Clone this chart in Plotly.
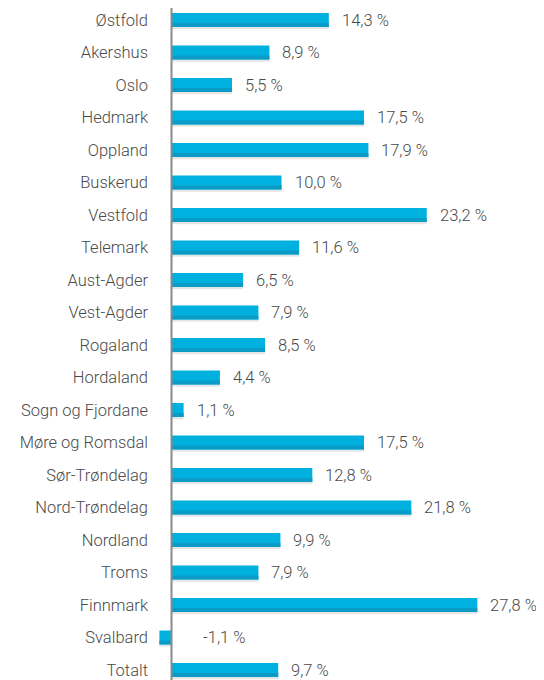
import plotly.graph_objects as go

categories = ["Østfold", "Akershus", "Oslo", "Hedmark", "Oppland", "Buskerud", "Vestfold",
              "Telemark", "Aust-Agder", "Vest-Agder", "Rogaland", "Hordaland", "Sogn og Fjordane",
              "Møre og Romsdal", "Sør-Trøndelag", "Nord-Trøndelag", "Nordland", "Troms",
              "Finnmark", "Svalbard", "Totalt"]
values = [14.3, 8.9, 5.5, 17.5, 17.9, 10.0, 23.2, 11.6, 6.5, 7.9, 8.5, 4.4, 1.1,
          17.5, 12.8, 21.8, 9.9, 7.9, 27.8, -1.1, 9.7]

def fmt(v):
    return f"{v:.1f}".replace(".", ",") + " %"

FONT = dict(family="Roboto", size=16.5, color="#4a4a4a", weight=300)
BAR_W = 0.43

fig = go.Figure()
# soft shadow under each bar
fig.add_trace(go.Bar(
    x=values, y=categories, orientation="h",
    marker=dict(color="rgba(110,110,110,0.18)", line=dict(width=0)),
    width=0.07, offset=BAR_W / 2, hoverinfo="skip",
))
fig.add_trace(go.Bar(
    x=values, y=categories, orientation="h",
    marker=dict(color="#00b1e0", line=dict(width=0)),
    width=BAR_W, hoverinfo="x+y",
))
# darker lower band of the bar (gradient look)
fig.add_trace(go.Bar(
    x=values, y=categories, orientation="h",
    marker=dict(color="#0a9cc6", line=dict(width=0)),
    width=0.12, offset=BAR_W / 2 - 0.12, hoverinfo="skip",
))

annotations = []
for c, v in zip(categories, values):
    annotations.append(dict(
        x=max(v, 0), y=c, xref="x", yref="y", text=fmt(v),
        showarrow=False, xanchor="left", yanchor="middle",
        xshift=11 if v >= 0 else 29,
        font=FONT,
    ))

n = len(categories)
y_top = -12 / 32.5
y_bot = n - 1 + 10 / 32.5
fig.update_layout(
    width=536, height=672,
    margin=dict(l=147, r=0, t=0, b=0),
    plot_bgcolor="white", paper_bgcolor="white",
    showlegend=False, barmode="overlay",
    annotations=annotations,
    shapes=[dict(type="line", xref="x", yref="y", x0=0, x1=0,
                 y0=y_top, y1=y_bot, line=dict(color="#8a8a8a", width=2))],
    xaxis=dict(range=[-1.5, 33.86], showgrid=False, zeroline=False,
               showticklabels=False, ticks="", automargin=False),
    yaxis=dict(range=[y_bot, y_top], showgrid=False, zeroline=False,
               ticks="", ticklabelstandoff=6, automargin=False,
               tickfont=FONT),
)

fig.write_html("out.html")
